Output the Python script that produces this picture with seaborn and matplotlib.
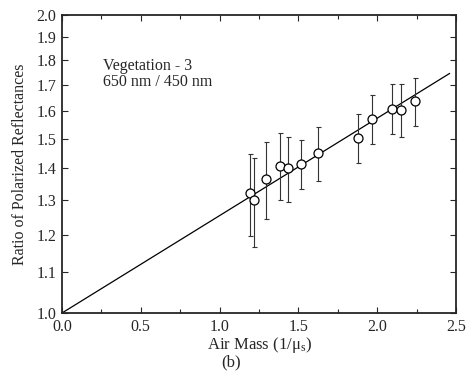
import numpy as np
import pandas as pd
import matplotlib
matplotlib.use('Agg')
import matplotlib.pyplot as plt
import seaborn as sns
from matplotlib.ticker import FixedLocator, FixedFormatter, NullLocator, MultipleLocator

# pontos (air mass, razao, limites da barra de erro)
air_mass = [1.190, 1.218, 1.296, 1.381, 1.431, 1.514, 1.626, 1.879, 1.968, 2.097, 2.149, 2.238]
ratio = [1.321, 1.300, 1.367, 1.409, 1.400, 1.415, 1.450, 1.501, 1.569, 1.609, 1.603, 1.636]
err_top = [1.446, 1.433, 1.488, 1.519, 1.505, 1.495, 1.541, 1.588, 1.660, 1.703, 1.703, 1.727]
err_bot = [1.196, 1.167, 1.245, 1.300, 1.295, 1.335, 1.360, 1.418, 1.483, 1.516, 1.505, 1.544]

# reta ajustada (extremos)
fit_x = [0.0, 2.46]
fit_y = [1.0, 1.746]

y_ticks = [1.0, 1.1, 1.2, 1.3, 1.4, 1.5, 1.6, 1.7, 1.8, 1.9, 2.0]
y_labels = ['%.1f' % v for v in y_ticks]

df = pd.DataFrame({'x': air_mass, 'y': ratio, 'top': err_top, 'bot': err_bot})

sns.set_style('ticks')
plt.rcParams['font.family'] = ['Liberation Serif', 'DejaVu Serif']
plt.rcParams['mathtext.fontset'] = 'custom'
plt.rcParams['mathtext.rm'] = 'Liberation Serif'
plt.rcParams['mathtext.it'] = 'Liberation Serif:italic'

fig = plt.figure(figsize=(4.66, 3.82), dpi=100)
ax = fig.add_axes([0.133, 0.1806, 0.8455, 0.7801])

ax.set_yscale('log')

sns.lineplot(x=fit_x, y=fit_y, ax=ax, color='black', linewidth=0.9)

yerr = np.array([df['y'] - df['bot'], df['top'] - df['y']])
ax.errorbar(df['x'], df['y'], yerr=yerr, fmt='none', ecolor='#333333',
            elinewidth=0.8, capsize=1.8, capthick=0.8, zorder=2)
sns.scatterplot(data=df, x='x', y='y', ax=ax, marker='o', s=42,
                facecolor='white', edgecolor='black', linewidth=0.9, zorder=3)

ax.set_xlim(0, 2.5)
ax.set_ylim(1.0, 2.0)
ax.xaxis.set_major_locator(MultipleLocator(0.5))
ax.xaxis.set_minor_locator(MultipleLocator(0.25))
ax.yaxis.set_major_locator(FixedLocator(y_ticks))
ax.yaxis.set_major_formatter(FixedFormatter(y_labels))
ax.yaxis.set_minor_locator(NullLocator())
ax.xaxis.set_major_formatter(matplotlib.ticker.FormatStrFormatter('%.1f'))

ax.tick_params(which='both', direction='in', top=True, right=True, labelsize=11.5, width=0.8)
ax.tick_params(which='major', length=4)
ax.tick_params(axis='x', which='major', pad=4.5)
ax.tick_params(axis='y', which='major', pad=4)
ax.tick_params(which='minor', length=3)
for s in ax.spines.values():
    s.set_linewidth(1.3)

ax.set_xlabel(r'Air Mass (1/$\mathrm{\mu}_\mathrm{s}$)', fontsize=12, labelpad=0)
ax.set_ylabel('Ratio of Polarized Reflectances', fontsize=11.5, labelpad=6)

ax.text(0.105, 0.855, 'Vegetation - 3\n650 nm / 450 nm', transform=ax.transAxes,
        fontsize=11.5, va='top', ha='left', linespacing=1.0)

fig.text(0.495, 0.04, '(b)', fontsize=12, ha='center', va='baseline')

fig.savefig('out.png', dpi=100)
